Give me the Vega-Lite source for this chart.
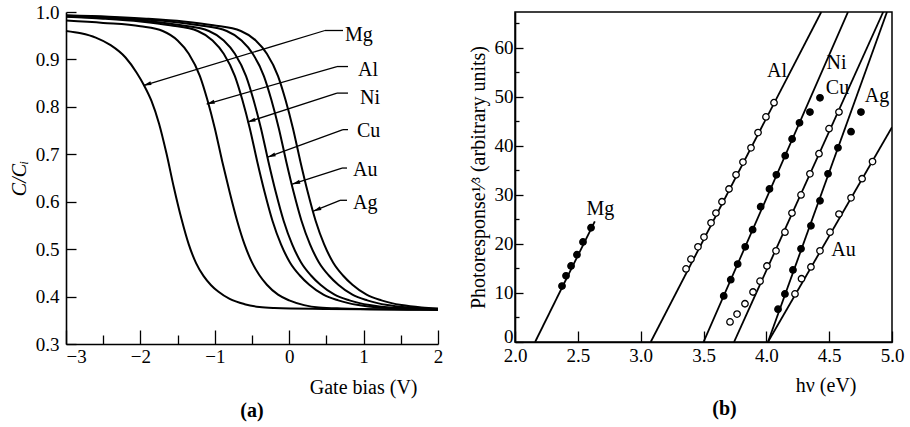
{
  "$schema": "https://vega.github.io/schema/vega-lite/v6.json",
  "background": "white",
  "padding": {"left": 9, "top": 3, "right": 4, "bottom": 4},
  "spacing": 24,
  "config": {
    "view": {"stroke": null},
    "font": "Liberation Serif",
    "axis": {
      "labelFont": "Liberation Serif", "labelFontSize": 19, "labelColor": "black",
      "titleFont": "Liberation Serif", "titleFontSize": 20, "titleColor": "black", "titleFontWeight": "normal",
      "domainColor": "black", "domainWidth": 1.6, "tickColor": "black", "tickWidth": 1.3,
      "grid": false, "labelFlush": false
    },
    "title": {"font": "Liberation Serif", "fontSize": 20, "fontWeight": "bold", "color": "black"}
  },
  "datasets": {
    "cv": [
      {"metal":"Mg","v":-3,"C":0.960},{"metal":"Mg","v":-2.8,"C":0.955},{"metal":"Mg","v":-2.6,"C":0.946},{"metal":"Mg","v":-2.4,"C":0.930},{"metal":"Mg","v":-2.2,"C":0.904},{"metal":"Mg","v":-2.05,"C":0.872},{"metal":"Mg","v":-1.95,"C":0.845},{"metal":"Mg","v":-1.85,"C":0.812},{"metal":"Mg","v":-1.75,"C":0.765},{"metal":"Mg","v":-1.65,"C":0.702},{"metal":"Mg","v":-1.55,"C":0.630},{"metal":"Mg","v":-1.45,"C":0.565},{"metal":"Mg","v":-1.35,"C":0.510},{"metal":"Mg","v":-1.25,"C":0.470},{"metal":"Mg","v":-1.15,"C":0.443},{"metal":"Mg","v":-1.05,"C":0.424},{"metal":"Mg","v":-0.95,"C":0.410},{"metal":"Mg","v":-0.8,"C":0.395},{"metal":"Mg","v":-0.6,"C":0.384},{"metal":"Mg","v":-0.4,"C":0.378},{"metal":"Mg","v":-0.2,"C":0.376},{"metal":"Mg","v":0.5,"C":0.374},{"metal":"Mg","v":2,"C":0.372},
      {"metal":"Al","v":-3,"C":0.982},{"metal":"Al","v":-2.5,"C":0.977},{"metal":"Al","v":-2.0,"C":0.970},{"metal":"Al","v":-1.7,"C":0.960},{"metal":"Al","v":-1.5,"C":0.940},{"metal":"Al","v":-1.35,"C":0.912},{"metal":"Al","v":-1.2,"C":0.865},{"metal":"Al","v":-1.1,"C":0.815},{"metal":"Al","v":-1.0,"C":0.755},{"metal":"Al","v":-0.9,"C":0.685},{"metal":"Al","v":-0.8,"C":0.620},{"metal":"Al","v":-0.7,"C":0.560},{"metal":"Al","v":-0.6,"C":0.510},{"metal":"Al","v":-0.5,"C":0.472},{"metal":"Al","v":-0.4,"C":0.445},{"metal":"Al","v":-0.3,"C":0.425},{"metal":"Al","v":-0.15,"C":0.404},{"metal":"Al","v":0,"C":0.392},{"metal":"Al","v":0.2,"C":0.382},{"metal":"Al","v":0.4,"C":0.377},{"metal":"Al","v":0.7,"C":0.375},{"metal":"Al","v":2,"C":0.372},
      {"metal":"Ni","v":-3,"C":0.990},{"metal":"Ni","v":-2.5,"C":0.986},{"metal":"Ni","v":-2.0,"C":0.980},{"metal":"Ni","v":-1.6,"C":0.972},{"metal":"Ni","v":-1.23,"C":0.960},{"metal":"Ni","v":-1.03,"C":0.940},{"metal":"Ni","v":-0.88,"C":0.912},{"metal":"Ni","v":-0.73,"C":0.865},{"metal":"Ni","v":-0.63,"C":0.815},{"metal":"Ni","v":-0.53,"C":0.755},{"metal":"Ni","v":-0.43,"C":0.685},{"metal":"Ni","v":-0.33,"C":0.620},{"metal":"Ni","v":-0.225,"C":0.560},{"metal":"Ni","v":-0.11,"C":0.510},{"metal":"Ni","v":0.01,"C":0.472},{"metal":"Ni","v":0.14,"C":0.445},{"metal":"Ni","v":0.27,"C":0.425},{"metal":"Ni","v":0.46,"C":0.404},{"metal":"Ni","v":0.66,"C":0.392},{"metal":"Ni","v":0.93,"C":0.382},{"metal":"Ni","v":1.2,"C":0.377},{"metal":"Ni","v":1.6,"C":0.375},{"metal":"Ni","v":2,"C":0.372},
      {"metal":"Cu","v":-3,"C":0.991},{"metal":"Cu","v":-2.35,"C":0.986},{"metal":"Cu","v":-1.85,"C":0.980},{"metal":"Cu","v":-1.45,"C":0.972},{"metal":"Cu","v":-1.08,"C":0.960},{"metal":"Cu","v":-0.88,"C":0.940},{"metal":"Cu","v":-0.73,"C":0.912},{"metal":"Cu","v":-0.58,"C":0.865},{"metal":"Cu","v":-0.48,"C":0.815},{"metal":"Cu","v":-0.38,"C":0.755},{"metal":"Cu","v":-0.28,"C":0.685},{"metal":"Cu","v":-0.18,"C":0.620},{"metal":"Cu","v":-0.075,"C":0.560},{"metal":"Cu","v":0.04,"C":0.510},{"metal":"Cu","v":0.16,"C":0.472},{"metal":"Cu","v":0.29,"C":0.445},{"metal":"Cu","v":0.42,"C":0.425},{"metal":"Cu","v":0.61,"C":0.404},{"metal":"Cu","v":0.81,"C":0.392},{"metal":"Cu","v":1.08,"C":0.382},{"metal":"Cu","v":1.35,"C":0.377},{"metal":"Cu","v":1.75,"C":0.375},{"metal":"Cu","v":2,"C":0.373},
      {"metal":"Au","v":-3,"C":0.992},{"metal":"Au","v":-2.61,"C":0.990},{"metal":"Au","v":-2.11,"C":0.986},{"metal":"Au","v":-1.61,"C":0.980},{"metal":"Au","v":-1.21,"C":0.972},{"metal":"Au","v":-0.84,"C":0.960},{"metal":"Au","v":-0.64,"C":0.940},{"metal":"Au","v":-0.49,"C":0.912},{"metal":"Au","v":-0.34,"C":0.865},{"metal":"Au","v":-0.24,"C":0.815},{"metal":"Au","v":-0.14,"C":0.755},{"metal":"Au","v":-0.04,"C":0.685},{"metal":"Au","v":0.06,"C":0.620},{"metal":"Au","v":0.165,"C":0.560},{"metal":"Au","v":0.28,"C":0.510},{"metal":"Au","v":0.40,"C":0.472},{"metal":"Au","v":0.53,"C":0.445},{"metal":"Au","v":0.66,"C":0.425},{"metal":"Au","v":0.85,"C":0.404},{"metal":"Au","v":1.05,"C":0.392},{"metal":"Au","v":1.32,"C":0.382},{"metal":"Au","v":1.59,"C":0.377},{"metal":"Au","v":2,"C":0.374},
      {"metal":"Ag","v":-3,"C":0.993},{"metal":"Ag","v":-2.42,"C":0.990},{"metal":"Ag","v":-1.92,"C":0.986},{"metal":"Ag","v":-1.42,"C":0.980},{"metal":"Ag","v":-1.02,"C":0.972},{"metal":"Ag","v":-0.65,"C":0.960},{"metal":"Ag","v":-0.45,"C":0.940},{"metal":"Ag","v":-0.30,"C":0.912},{"metal":"Ag","v":-0.15,"C":0.865},{"metal":"Ag","v":-0.05,"C":0.815},{"metal":"Ag","v":0.05,"C":0.755},{"metal":"Ag","v":0.15,"C":0.685},{"metal":"Ag","v":0.25,"C":0.620},{"metal":"Ag","v":0.355,"C":0.560},{"metal":"Ag","v":0.47,"C":0.510},{"metal":"Ag","v":0.59,"C":0.472},{"metal":"Ag","v":0.72,"C":0.445},{"metal":"Ag","v":0.85,"C":0.425},{"metal":"Ag","v":1.04,"C":0.404},{"metal":"Ag","v":1.24,"C":0.392},{"metal":"Ag","v":1.51,"C":0.382},{"metal":"Ag","v":1.78,"C":0.377},{"metal":"Ag","v":2,"C":0.375}
    ],
    "cvLeaders": [
      {"metal":"Mg","x1":0.723,"y1":0.961,"x2":0.481,"y2":0.961},
      {"metal":"Mg","x1":0.481,"y1":0.961,"x2":-1.961,"y2":0.845},
      {"metal":"Al","x1":0.790,"y1":0.885,"x2":0.642,"y2":0.885},
      {"metal":"Al","x1":0.642,"y1":0.885,"x2":-1.109,"y2":0.806},
      {"metal":"Ni","x1":0.790,"y1":0.829,"x2":0.642,"y2":0.829},
      {"metal":"Ni","x1":0.642,"y1":0.829,"x2":-0.56,"y2":0.768},
      {"metal":"Cu","x1":0.790,"y1":0.752,"x2":0.723,"y2":0.752},
      {"metal":"Cu","x1":0.723,"y1":0.752,"x2":-0.29,"y2":0.694},
      {"metal":"Au","x1":0.777,"y1":0.671,"x2":0.710,"y2":0.671},
      {"metal":"Au","x1":0.710,"y1":0.671,"x2":0.04,"y2":0.637},
      {"metal":"Ag","x1":0.777,"y1":0.603,"x2":0.683,"y2":0.603},
      {"metal":"Ag","x1":0.683,"y1":0.603,"x2":0.324,"y2":0.580}
    ],
    "cvArrows": [
      {"metal":"Mg","v":-1.961,"C":0.845,"angle":253.2},
      {"metal":"Al","v":-1.109,"C":0.806,"angle":253.8},
      {"metal":"Ni","v":-0.56,"C":0.768,"angle":252.0},
      {"metal":"Cu","v":-0.29,"C":0.694,"angle":250.1},
      {"metal":"Au","v":0.04,"C":0.637,"angle":252.4},
      {"metal":"Ag","v":0.324,"C":0.580,"angle":247.6}
    ],
    "cvLabels": [
      {"metal":"Mg","v":0.750,"C":0.951},
      {"metal":"Al","v":0.925,"C":0.878},
      {"metal":"Ni","v":0.952,"C":0.819},
      {"metal":"Cu","v":0.911,"C":0.749},
      {"metal":"Au","v":0.857,"C":0.667},
      {"metal":"Ag","v":0.857,"C":0.597}
    ],
    "prLines": [
      {"metal":"Mg","e":2.16,"r":0},{"metal":"Mg","e":2.635,"r":24.6},
      {"metal":"Al","e":3.08,"r":0},{"metal":"Al","e":4.437,"r":67.3},
      {"metal":"Ni","e":3.50,"r":0},{"metal":"Ni","e":4.65,"r":67.3},
      {"metal":"Cu","e":3.743,"r":0},{"metal":"Cu","e":4.93,"r":67.3},
      {"metal":"Ag","e":4.013,"r":0},{"metal":"Ag","e":4.96,"r":67.3},
      {"metal":"Au","e":4.013,"r":0},{"metal":"Au","e":5.0,"r":43.8}
    ],
    "prPts": [
      {"metal":"Mg","e":2.374,"r":11.4},{"metal":"Mg","e":2.406,"r":13.5},{"metal":"Mg","e":2.446,"r":15.5},{"metal":"Mg","e":2.493,"r":17.8},{"metal":"Mg","e":2.541,"r":20.4},{"metal":"Mg","e":2.605,"r":23.3},
      {"metal":"Al","e":3.361,"r":14.9},{"metal":"Al","e":3.400,"r":16.9},{"metal":"Al","e":3.456,"r":19.4},{"metal":"Al","e":3.504,"r":21.4},{"metal":"Al","e":3.560,"r":24.3},{"metal":"Al","e":3.599,"r":26.3},{"metal":"Al","e":3.647,"r":28.6},{"metal":"Al","e":3.703,"r":31.2},{"metal":"Al","e":3.759,"r":34.1},{"metal":"Al","e":3.814,"r":36.7},{"metal":"Al","e":3.878,"r":39.6},{"metal":"Al","e":3.934,"r":42.7},{"metal":"Al","e":3.997,"r":45.9},{"metal":"Al","e":4.061,"r":48.8},
      {"metal":"Ni","e":3.661,"r":9.4},{"metal":"Ni","e":3.717,"r":12.7},{"metal":"Ni","e":3.772,"r":15.9},{"metal":"Ni","e":3.832,"r":19.4},{"metal":"Ni","e":3.891,"r":22.9},{"metal":"Ni","e":3.955,"r":27.6},{"metal":"Ni","e":4.025,"r":31.2},{"metal":"Ni","e":4.080,"r":34.1},{"metal":"Ni","e":4.150,"r":38.0},{"metal":"Ni","e":4.205,"r":41.4},{"metal":"Ni","e":4.264,"r":44.7},{"metal":"Ni","e":4.347,"r":46.9},{"metal":"Ni","e":4.427,"r":49.8},
      {"metal":"Cu","e":3.711,"r":4.1},{"metal":"Cu","e":3.767,"r":5.7},{"metal":"Cu","e":3.830,"r":7.8},{"metal":"Cu","e":3.894,"r":10.2},{"metal":"Cu","e":3.950,"r":12.4},{"metal":"Cu","e":4.005,"r":15.5},{"metal":"Cu","e":4.077,"r":18.6},{"metal":"Cu","e":4.148,"r":22.4},{"metal":"Cu","e":4.204,"r":26.3},{"metal":"Cu","e":4.276,"r":30.0},{"metal":"Cu","e":4.347,"r":34.3},{"metal":"Cu","e":4.419,"r":38.4},{"metal":"Cu","e":4.499,"r":43.5},{"metal":"Cu","e":4.578,"r":46.9},
      {"metal":"Ag","e":4.093,"r":6.7},{"metal":"Ag","e":4.148,"r":9.8},{"metal":"Ag","e":4.212,"r":14.7},{"metal":"Ag","e":4.276,"r":19.0},{"metal":"Ag","e":4.355,"r":23.7},{"metal":"Ag","e":4.427,"r":28.8},{"metal":"Ag","e":4.491,"r":34.3},{"metal":"Ag","e":4.570,"r":39.6},{"metal":"Ag","e":4.674,"r":42.9},{"metal":"Ag","e":4.753,"r":46.9},
      {"metal":"Au","e":4.228,"r":9.8},{"metal":"Au","e":4.280,"r":12.9},{"metal":"Au","e":4.355,"r":15.3},{"metal":"Au","e":4.427,"r":18.6},{"metal":"Au","e":4.507,"r":22.4},{"metal":"Au","e":4.578,"r":26.1},{"metal":"Au","e":4.674,"r":29.4},{"metal":"Au","e":4.762,"r":33.3},{"metal":"Au","e":4.845,"r":36.8}
    ],
    "prLabels": [
      {"metal":"Mg","e":2.68,"r":27.1},
      {"metal":"Al","e":4.085,"r":55.2},
      {"metal":"Ni","e":4.558,"r":56.8},
      {"metal":"Cu","e":4.566,"r":51.8},
      {"metal":"Ag","e":4.88,"r":50.2},
      {"metal":"Au","e":4.614,"r":18.7}
    ]
  },
  "hconcat": [
    {
      "width": 372,
      "height": 332,
      "title": {"text": "(a)", "orient": "bottom", "offset": 4},
      "resolve": {"axis": {"x": "independent"}},
      "layer": [
        {
          "data": {"name": "cv"},
          "mark": {"type": "line", "color": "black", "strokeWidth": 2, "interpolate": "monotone"},
          "encoding": {
            "x": {"field": "v", "type": "quantitative", "scale": {"domain": [-3, 2], "nice": false},
              "axis": {"orient": "bottom", "values": [-3, -2, -1, 0, 1, 2], "tickSize": -14, "labelPadding": 17,
                "labelAlign": {"condition": {"test": "datum.value == -3", "value": "left"}, "value": "center"},
                "labelExpr": "datum.value < 0 ? '−' + abs(datum.value) : datum.label",
                "title": "Gate bias (V)", "titleX": 351, "titleY": 33, "titleAlign": "right", "titleBaseline": "top", "titleAnchor": null}},
            "y": {"field": "C", "type": "quantitative", "scale": {"domain": [0.3, 1.0], "nice": false, "zero": false},
              "axis": {"values": [0.3, 0.4, 0.5, 0.6, 0.7, 0.8, 0.9, 1.0], "format": ".1f", "tickSize": -10, "labelPadding": 17,
                "title": "C/Cᵢ", "titleFontStyle": "italic", "titlePadding": 6}},
            "detail": {"field": "metal"}
          }
        },
        {
          "data": {"name": "cvLeaders"},
          "mark": {"type": "rule", "color": "black", "strokeWidth": 1.3},
          "encoding": {
            "x": {"field": "x1", "type": "quantitative",
              "axis": {"orient": "bottom", "values": [-2.5, -1.5, -0.5, 0.5, 1.5], "tickSize": -9, "labels": false, "domain": false, "title": null}},
            "y": {"field": "y1", "type": "quantitative"},
            "x2": {"field": "x2"},
            "y2": {"field": "y2"}
          }
        },
        {
          "data": {"name": "cvArrows"},
          "mark": {"type": "point", "shape": "M0,0L0.5,2L-0.5,2Z", "filled": true, "color": "black", "size": 64, "opacity": 1},
          "encoding": {
            "x": {"field": "v", "type": "quantitative", "axis": null},
            "y": {"field": "C", "type": "quantitative"},
            "angle": {"field": "angle", "type": "quantitative", "scale": null}
          }
        },
        {
          "data": {"name": "cvLabels"},
          "mark": {"type": "text", "align": "left", "baseline": "middle", "font": "Liberation Serif", "fontSize": 20, "color": "black"},
          "encoding": {
            "x": {"field": "v", "type": "quantitative", "axis": null},
            "y": {"field": "C", "type": "quantitative"},
            "text": {"field": "metal"}
          }
        }
      ]
    },
    {
      "width": 377,
      "height": 330,
      "view": {"stroke": "black", "strokeWidth": 1.5},
      "title": {"text": "(b)", "orient": "bottom", "offset": 4, "dx": 21},
      "resolve": {"axis": {"y": "independent"}},
      "layer": [
        {
          "data": {"name": "prLines"},
          "mark": {"type": "line", "color": "black", "strokeWidth": 1.8, "clip": true},
          "encoding": {
            "x": {"field": "e", "type": "quantitative", "scale": {"domain": [2, 5], "nice": false, "zero": false},
              "axis": {"values": [2, 2.5, 3, 3.5, 4, 4.5, 5], "format": ".1f", "tickSize": -11, "labelPadding": 15,
                "title": "hν (eV)", "titleX": 341, "titleY": 33, "titleAlign": "right", "titleBaseline": "top", "titleAnchor": null}},
            "y": {"field": "r", "type": "quantitative", "scale": {"domain": [0, 67.3], "nice": false},
              "axis": {"orient": "left", "values": [0, 10, 20, 30, 40, 50, 60], "tickSize": -8, "labelPadding": 10,
                "labelOffset": {"condition": {"test": "datum.value == 0", "value": -6}, "value": 0},
                "title": "Photoresponse¹⁄³ (arbitrary units)", "titlePadding": 6}},
            "detail": {"field": "metal"}
          }
        },
        {
          "data": {"name": "prPts"},
          "mark": {"type": "point", "shape": "circle", "filled": true, "stroke": "black", "strokeWidth": 1.3, "size": 42, "opacity": 1},
          "encoding": {
            "x": {"field": "e", "type": "quantitative"},
            "y": {"field": "r", "type": "quantitative",
              "axis": {"orient": "left", "values": [5, 15, 25, 35, 45, 55, 65], "tickSize": -4, "labels": false, "domain": false, "title": null}},
            "fill": {"field": "metal", "type": "nominal", "legend": null,
              "scale": {"domain": ["Mg", "Al", "Ni", "Cu", "Ag", "Au"], "range": ["black", "white", "black", "white", "black", "white"]}}
          }
        },
        {
          "data": {"name": "prLabels"},
          "mark": {"type": "text", "align": "center", "baseline": "middle", "font": "Liberation Serif", "fontSize": 20, "color": "black"},
          "encoding": {
            "x": {"field": "e", "type": "quantitative"},
            "y": {"field": "r", "type": "quantitative", "axis": null},
            "text": {"field": "metal"}
          }
        }
      ]
    }
  ]
}
